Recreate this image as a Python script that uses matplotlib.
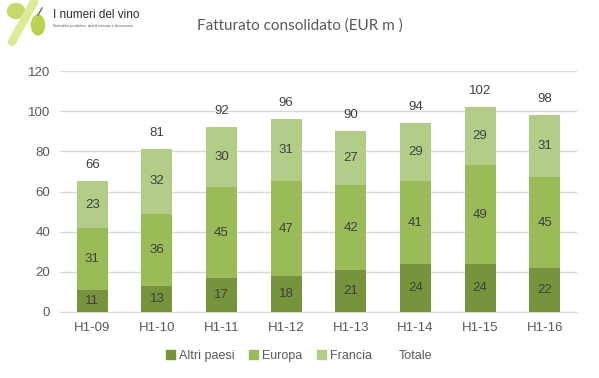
import numpy as np
import matplotlib.pyplot as plt
from matplotlib.patches import Patch, Ellipse

plt.rcParams['font.family'] = ['Liberation Sans', 'DejaVu Sans']

# dati (EUR milioni)
periodi = ['H1-09', 'H1-10', 'H1-11', 'H1-12', 'H1-13', 'H1-14', 'H1-15', 'H1-16']
altri_paesi = [11, 13, 17, 18, 21, 24, 24, 22]
europa = [31, 36, 45, 47, 42, 41, 49, 45]
francia = [23, 32, 30, 31, 27, 29, 29, 31]
totale = [66, 81, 92, 96, 90, 94, 102, 98]

c_altri = '#77933C'
c_europa = '#9BBB59'
c_francia = '#B3CD89'
grigio = '#595959'

fig = plt.figure(figsize=(5.99, 3.78), dpi=100)
ax = fig.add_axes([60/599, 66/378, 517/599, 241/378])

x = np.arange(len(periodi))
w = 0.48
b1 = ax.bar(x, altri_paesi, w, color=c_altri, zorder=3)
b2 = ax.bar(x, europa, w, bottom=altri_paesi, color=c_europa, zorder=3)
base3 = np.array(altri_paesi) + np.array(europa)
b3 = ax.bar(x, francia, w, bottom=base3, color=c_francia, zorder=3)

# etichette dentro le barre
for bars, vals, bot in [(b1, altri_paesi, np.zeros(len(x))), (b2, europa, altri_paesi), (b3, francia, base3)]:
    for i, v in enumerate(vals):
        ax.text(x[i], bot[i] + v / 2, str(v), ha='center', va='center',
                fontsize=9.5, color='#404040', zorder=4)

# totale sopra le barre
tops = base3 + np.array(francia)
for i, t in enumerate(totale):
    ax.text(x[i], tops[i] + 5, str(t), ha='center', va='bottom', fontsize=9.5, color='#404040')

ax.set_xlim(-0.5, len(x) - 0.5)
ax.set_ylim(0, 120)
ax.set_yticks(range(0, 121, 20))
ax.set_xticks(x)
ax.set_xticklabels(periodi)
ax.grid(axis='y', color='#D9D9D9', linewidth=1, zorder=0)
for s in ['top', 'right', 'left']:
    ax.spines[s].set_visible(False)
ax.spines['bottom'].set_color('#D9D9D9')
ax.tick_params(length=0, colors=grigio, labelsize=9.5, pad=7)

fig.text(0.5, 1 - 26/378, 'Fatturato consolidato (EUR m )', ha='center', va='center',
         fontsize=11, color=grigio, family=['Lato', 'DejaVu Sans'])

handles = [Patch(color=c_altri), Patch(color=c_europa), Patch(color=c_francia), Patch(color='none')]
fig.legend(handles, ['Altri paesi', 'Europa', 'Francia', 'Totale'], loc='center',
           bbox_to_anchor=(0.5, 1 - 356/378), ncol=4, frameon=False, fontsize=9,
           handlelength=0.7, handleheight=0.7, handletextpad=0.3, columnspacing=1.2,
           labelcolor=grigio)

# logo "I numeri del vino"
lax = fig.add_axes([0, 1 - 46/378, 130/599, 46/378])
lax.set_xlim(0, 130)
lax.set_ylim(46, 0)
lax.axis('off')
lax.plot([12, 34], [42, 2], color='#DDEB95', linewidth=6, solid_capstyle='round')
lax.add_patch(Ellipse((16, 11), 17, 15, color='#C5DA6A'))
lax.add_patch(Ellipse((38, 25), 13, 20, color='#B9D252'))
lax.plot([38, 42], [15, 8], color='#7A6A3A', linewidth=1)
lax.text(53, 15, 'I numeri del vino', fontsize=8.5, color='#2B2B2B', va='center',
         family=['Liberation Sans Narrow', 'Liberation Sans'])
lax.text(53, 26, 'Statistiche produttive, dati di mercato e di consumo', fontsize=2.5,
         color='#555555', va='center')

fig.savefig('out.png', dpi=100)
